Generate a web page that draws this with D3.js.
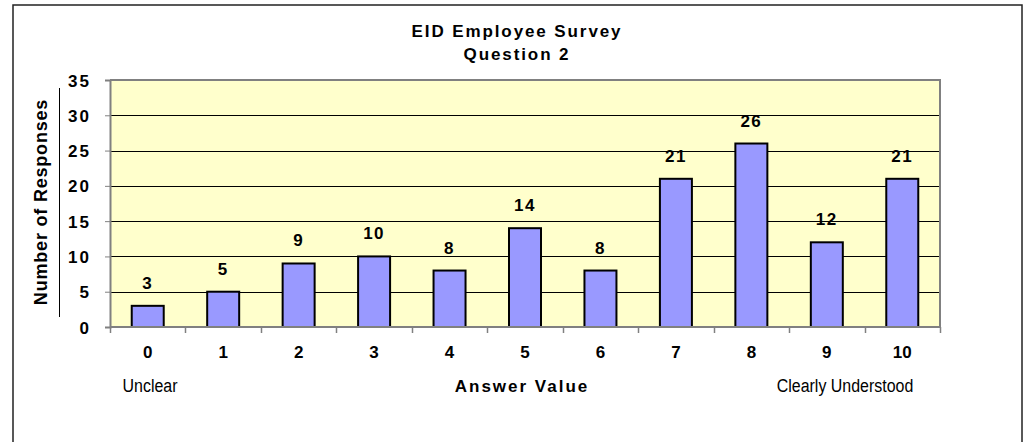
<html>
<head>
<meta charset="utf-8">
<style>
  body { margin: 0; background: #fff; }
  text { font-family: "Liberation Sans", Arial, sans-serif; fill: #000; }
  .bold { font-weight: bold; }
</style>
</head>
<body>
<svg width="1031" height="442"></svg>
<script src="https://d3js.org/d3.v7.min.js"></script>
<script>
// values
var answers = ["0", "1", "2", "3", "4", "5", "6", "7", "8", "9", "10"];
var responses = [3, 5, 9, 10, 8, 14, 8, 21, 26, 12, 21];
var yTicks = [0, 5, 10, 15, 20, 25, 30, 35];
var titleLines = ["EID Employee Survey", "Question 2"];

var svg = d3.select("svg");

// outer frame
svg.append("rect")
    .attr("x", 13).attr("y", 5)
    .attr("width", 1009).attr("height", 460)
    .attr("fill", "none")
    .attr("stroke", "#222")
    .attr("stroke-width", 1.5);

var plot = {left: 110, right: 940, top: 80, bottom: 327};

var x = d3.scaleBand()
    .domain(answers)
    .range([plot.left, plot.right])
    .paddingInner(0.576)
    .paddingOuter(0.288);

var y = d3.scaleLinear()
    .domain([0, 35])
    .range([plot.bottom, plot.top]);

// plot background
svg.append("rect")
    .attr("x", plot.left).attr("y", plot.top)
    .attr("width", plot.right - plot.left)
    .attr("height", plot.bottom - plot.top)
    .attr("fill", "#ffffcc");

// gridlines
svg.append("g")
  .selectAll("line")
  .data(yTicks.filter(function(d) { return d > 0 && d < 35; }))
  .enter().append("line")
    .attr("x1", plot.left).attr("x2", plot.right)
    .attr("y1", function(d) { return Math.round(y(d)) + 0.5; })
    .attr("y2", function(d) { return Math.round(y(d)) + 0.5; })
    .attr("stroke", "#000")
    .attr("stroke-width", 1);

// plot border top/right
svg.append("path")
    .attr("d", "M" + plot.left + "," + plot.top + "H" + plot.right + "V" + plot.bottom)
    .attr("fill", "none")
    .attr("stroke", "#808080")
    .attr("stroke-width", 2);

// bars
svg.append("g")
  .selectAll("rect")
  .data(responses)
  .enter().append("rect")
    .attr("x", function(d, i) { return x(answers[i]); })
    .attr("y", function(d) { return y(d); })
    .attr("width", x.bandwidth())
    .attr("height", function(d) { return y(0) - y(d); })
    .attr("fill", "#9999ff")
    .attr("stroke", "#000")
    .attr("stroke-width", 2);

// value labels
svg.append("g")
  .selectAll("text")
  .data(responses)
  .enter().append("text")
    .attr("class", "bold")
    .attr("x", function(d, i) { return x(answers[i]) + x.bandwidth() / 2; })
    .attr("y", function(d) { return y(d) - 17; })
    .attr("text-anchor", "middle")
    .attr("font-size", 17)
    .attr("letter-spacing", 1.5)
    .text(function(d) { return d; });

// y axis
var yAxis = svg.append("g")
    .attr("transform", "translate(" + plot.left + ",0)")
    .call(d3.axisLeft(y).tickValues(yTicks).tickSize(5).tickPadding(14));
yAxis.select(".domain").attr("stroke", "#808080").attr("stroke-width", 2);
yAxis.selectAll(".tick line").attr("stroke", "#808080");
yAxis.selectAll(".tick text")
    .attr("class", "bold")
    .attr("font-size", 17)
    .attr("letter-spacing", 2)
    .attr("font-family", null)
    .attr("dy", "0.36em");

// x axis: ticks at band boundaries
var bounds = answers.map(function(d) { return x(d) - (x.step() - x.bandwidth()) / 2; });
bounds.push(plot.right);
var xg = svg.append("g");
xg.append("line")
    .attr("x1", plot.left).attr("x2", plot.right)
    .attr("y1", plot.bottom).attr("y2", plot.bottom)
    .attr("stroke", "#808080").attr("stroke-width", 2);
xg.selectAll("line.tk")
  .data(bounds)
  .enter().append("line")
    .attr("class", "tk")
    .attr("x1", function(d) { return Math.round(d) + 0.5; })
    .attr("x2", function(d) { return Math.round(d) + 0.5; })
    .attr("y1", plot.bottom).attr("y2", plot.bottom + 6)
    .attr("stroke", "#808080").attr("stroke-width", 1.5);
xg.selectAll("text")
  .data(answers)
  .enter().append("text")
    .attr("class", "bold")
    .attr("x", function(d) { return x(d) + x.bandwidth() / 2; })
    .attr("y", 358)
    .attr("text-anchor", "middle")
    .attr("font-size", 17)
    .text(function(d) { return d; });

// axis titles
svg.append("text")
    .attr("class", "bold")
    .attr("x", 522).attr("y", 392)
    .attr("text-anchor", "middle")
    .attr("font-size", 17)
    .attr("letter-spacing", 2)
    .text("Answer Value");

// condensed captions at each end of the scale
[["Unclear", 150], ["Clearly Understood", 845]].forEach(function(c) {
  svg.append("text")
      .attr("transform", "translate(" + c[1] + ",392) scale(0.84,1)")
      .attr("text-anchor", "middle")
      .attr("font-size", 19)
      .text(c[0]);
});

svg.append("text")
    .attr("class", "bold")
    .attr("transform", "translate(47,202) rotate(-90)")
    .attr("text-anchor", "middle")
    .attr("font-size", 18)
    .attr("letter-spacing", 0.8)
    .text("Number of Responses");

svg.append("line")
    .attr("x1", 59.5).attr("x2", 59.5)
    .attr("y1", 88).attr("y2", 317)
    .attr("stroke", "#000").attr("stroke-width", 1);

// title
svg.append("g")
  .selectAll("text")
  .data(titleLines)
  .enter().append("text")
    .attr("class", "bold")
    .attr("x", 517)
    .attr("y", function(d, i) { return 37 + i * 23; })
    .attr("text-anchor", "middle")
    .attr("font-size", 17)
    .attr("letter-spacing", 1.9)
    .text(function(d) { return d; });
</script>
</body>
</html>
